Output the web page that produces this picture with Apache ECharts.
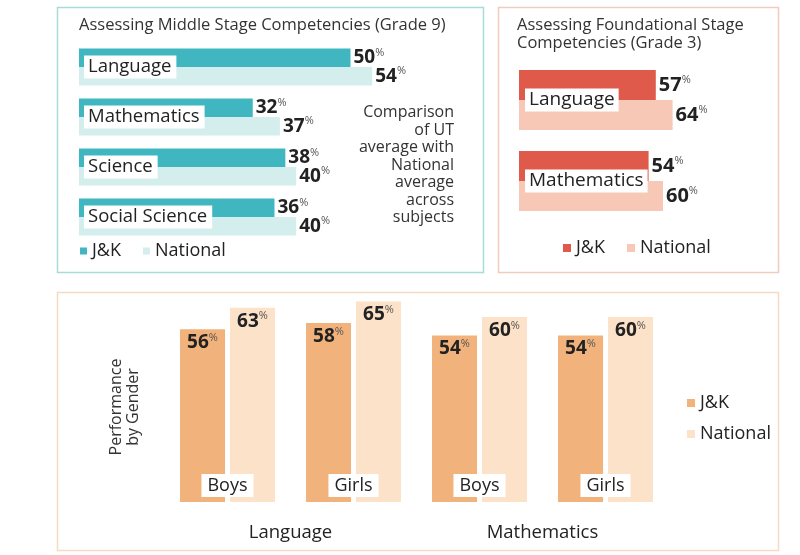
<!DOCTYPE html>
<html>
<head>
<meta charset="utf-8">
<script src="https://cdn.jsdelivr.net/npm/echarts@6/dist/echarts.min.js"></script>
<style>
  html, body { margin: 0; padding: 0; background: #fff; }
  #chart { width: 800px; height: 555px; }
</style>
</head>
<body>
<div id="chart"></div>
<script>
// Grade 9 - middle stage
const subjects9 = ['Language', 'Mathematics', 'Science', 'Social Science'];
const jk9 = [50, 32, 38, 36];
const nat9 = [54, 37, 40, 40];
// Grade 3 - foundational stage
const subjects3 = ['Language', 'Mathematics'];
const jk3 = [57, 54];
const nat3 = [64, 60];
// performance by gender
const genderCats = ['Boys', 'Girls', 'Boys', 'Girls'];
const genderSubjects = ['Language', 'Mathematics'];
const jkGender = [56, 58, 54, 54];
const natGender = [63, 65, 60, 60];

const FONT = '"Open Sans", sans-serif';
const DARK = '#222';

// value label with small superscript %
function pctLabel(size, pos) {
  return {
    show: true,
    position: pos,
    distance: 3,
    formatter: p => '{v|' + p.value + '}{p|%}',
    rich: {
      v: { fontSize: size, fontWeight: 'bold', color: DARK, fontFamily: FONT, lineHeight: size + 2 },
      p: { fontSize: 11, color: '#555', fontFamily: FONT, verticalAlign: 'top', lineHeight: 11 }
    }
  };
}

const chart = echarts.init(document.getElementById('chart'));

chart.setOption({
  animation: false,
  textStyle: { fontFamily: FONT },
  graphic: [
    { type: 'rect', shape: { x: 57.5, y: 7.5, width: 426, height: 265 }, style: { fill: 'none', stroke: '#a9dbdc', lineWidth: 1.5 } },
    { type: 'rect', shape: { x: 498.5, y: 7.5, width: 280, height: 265 }, style: { fill: 'none', stroke: '#f1cbbd', lineWidth: 1.5 } },
    { type: 'rect', shape: { x: 57.5, y: 292.5, width: 721, height: 258 }, style: { fill: 'none', stroke: '#f5dbc2', lineWidth: 1.5 } },
    { type: 'text', left: 79, top: 17, style: { text: 'Assessing Middle Stage Competencies (Grade 9)', fontSize: 16.5, fill: '#333', fontFamily: FONT } },
    { type: 'text', left: 517, top: 16, style: { text: 'Assessing Foundational Stage\nCompetencies (Grade 3)', fontSize: 16.5, lineHeight: 18, fill: '#333', fontFamily: FONT } },
    { type: 'text', x: 454, y: 104, style: { text: 'Comparison\nof UT\naverage with\nNational\naverage\nacross\nsubjects', fontSize: 16, lineHeight: 17.5, align: 'right', fill: '#333', fontFamily: FONT } },
    { type: 'text', x: 125, y: 407, rotation: Math.PI / 2, style: { text: 'Performance\nby Gender', fontSize: 16, lineHeight: 17, align: 'center', verticalAlign: 'middle', fill: '#333', fontFamily: FONT } }
  ],
  legend: [
    {
      data: ['J&K·9', 'National·9'], left: 80, top: 242, padding: 0, itemWidth: 7, itemHeight: 7, itemGap: 22, icon: 'rect',
      formatter: n => n.split('·')[0], textStyle: { fontSize: 18, color: DARK }
    },
    {
      data: ['J&K·3', 'National·3'], left: 563, top: 239, padding: 0, itemWidth: 8, itemHeight: 8, itemGap: 22, icon: 'rect',
      formatter: n => n.split('·')[0], textStyle: { fontSize: 18, color: DARK }
    },
    {
      data: ['J&K·g', 'National·g'], orient: 'vertical', left: 687, top: 394, padding: 0, itemWidth: 8, itemHeight: 8, itemGap: 13, icon: 'rect',
      formatter: n => n.split('·')[0], textStyle: { fontSize: 18, color: DARK }
    }
  ],
  grid: [
    { left: 79, top: 42, width: 543, height: 200 },
    { left: 519, top: 59.5, width: 240, height: 162 },
    { left: 164.5, top: 193.5, width: 504, height: 308.5 }
  ],
  xAxis: [
    { gridIndex: 0, type: 'value', min: 0, max: 100, show: false },
    { gridIndex: 1, type: 'value', min: 0, max: 100, show: false },
    {
      gridIndex: 2, type: 'category', data: genderCats, z: 5,
      axisLine: { show: false }, axisTick: { show: false },
      axisLabel: { inside: true, margin: 5, fontSize: 18, color: DARK, backgroundColor: '#fff', padding: [3, 6, 2, 6] }
    },
    {
      gridIndex: 2, type: 'category', data: genderSubjects, position: 'bottom',
      axisLine: { show: false }, axisTick: { show: false },
      axisLabel: { margin: 21, fontSize: 18.5, color: DARK }
    }
  ],
  yAxis: [
    {
      gridIndex: 0, type: 'category', data: subjects9, inverse: true, z: 5,
      axisLine: { show: false }, axisTick: { show: false },
      axisLabel: { inside: true, margin: 5, fontSize: 18.5, color: DARK, backgroundColor: '#fff', padding: [3, 5, 1, 4] }
    },
    {
      gridIndex: 1, type: 'category', data: subjects3, inverse: true, z: 5,
      axisLine: { show: false }, axisTick: { show: false },
      axisLabel: { inside: true, margin: 6, fontSize: 19, color: DARK, backgroundColor: '#fff', padding: [3, 4, 1, 4] }
    },
    { gridIndex: 2, type: 'value', min: 0, max: 100, show: false }
  ],
  series: [
    { name: 'J&K·9', type: 'bar', xAxisIndex: 0, yAxisIndex: 0, data: jk9, barWidth: 18.5, barGap: '0%', itemStyle: { color: '#40b7c0' }, label: pctLabel(19, 'right') },
    { name: 'National·9', type: 'bar', xAxisIndex: 0, yAxisIndex: 0, data: nat9, barWidth: 18.5, barGap: '0%', itemStyle: { color: '#d4eeee' }, label: pctLabel(19, 'right') },
    { name: 'J&K·3', type: 'bar', xAxisIndex: 1, yAxisIndex: 1, data: jk3, barWidth: 30, barGap: '0%', itemStyle: { color: '#e05a4b' }, label: pctLabel(20, 'right') },
    { name: 'National·3', type: 'bar', xAxisIndex: 1, yAxisIndex: 1, data: nat3, barWidth: 30, barGap: '0%', itemStyle: { color: '#f6c8b5' }, label: pctLabel(20, 'right') },
    { name: 'J&K·g', type: 'bar', xAxisIndex: 2, yAxisIndex: 2, data: jkGender, barWidth: 45, barGap: '11%', itemStyle: { color: '#f1b37b' }, label: pctLabel(19, 'insideTop') },
    { name: 'National·g', type: 'bar', xAxisIndex: 2, yAxisIndex: 2, data: natGender, barWidth: 45, barGap: '11%', itemStyle: { color: '#fbe2c8' }, label: pctLabel(19, 'insideTop') }
  ]
});
</script>
</body>
</html>
